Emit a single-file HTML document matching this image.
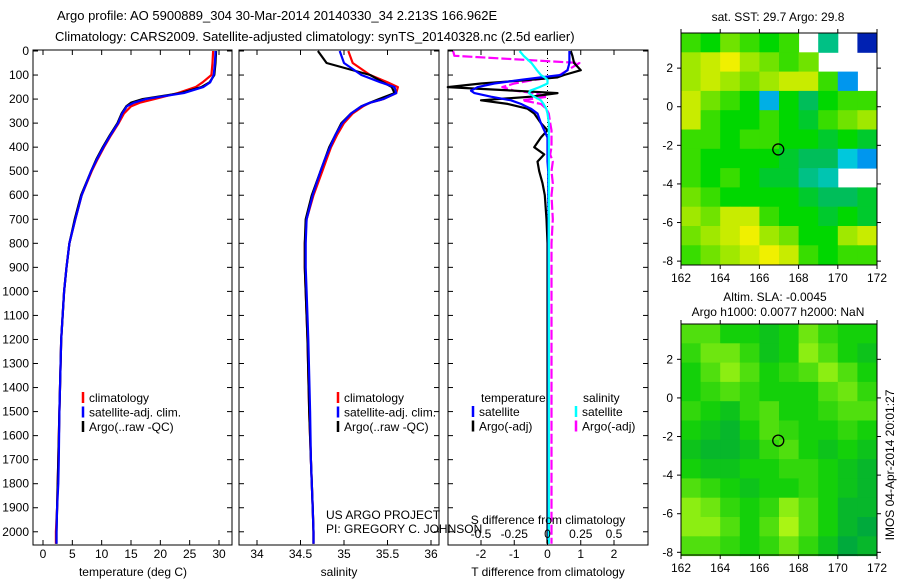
<!DOCTYPE html>
<html><head><meta charset="utf-8">
<style>
html,body{margin:0;padding:0;background:#fff;}
svg{display:block;font-family:"Liberation Sans",sans-serif;}
text{font-size:12px;fill:#000;}
</style></head>
<body>
<svg id="c" width="900" height="580" viewBox="0 0 900 580">
<text x="57" y="20" style="font-size:13px">Argo profile: AO 5900889_304 30-Mar-2014 20140330_34 2.213S 166.962E</text>
<text x="55" y="41" style="font-size:13px">Climatology: CARS2009. Satellite-adjusted climatology: synTS_20140328.nc (2.5d earlier)</text>
</svg>
<script>
// ---------- data ----------
const depthTicks=[0,100,200,300,400,500,600,700,800,900,1000,1100,1200,1300,1400,1500,1600,1700,1800,1900,2000];
const tTicks=[0,5,10,15,20,25,30];
const sTicks=[34,34.5,35,35.5,36];
const sTickLabels=["34","34.5","35","35.5","36"];
const dTTicks=[-2,-1,0,1,2];
const dSTicks=[-0.5,-0.25,0,0.25,0.5];
const dSTickLabels=["-0.5","-0.25","0","0.25","0.5"];
const lonTicks=[162,164,166,168,170,172];
const latTicks=[2,0,-2,-4,-6,-8];

const profDepth=[0,50,100,130,150,175,200,215,230,260,300,350,400,450,500,600,700,800,900,1000,1200,1500,1700,1800,1900,2000,2050];
const tempClim=[29.0,28.9,28.7,27.2,26.0,23.0,19.0,16.5,15.0,13.8,12.9,11.6,10.4,9.3,8.3,6.6,5.5,4.5,4.0,3.6,3.1,2.8,2.6,2.5,2.4,2.2,2.2];
const tempSat=[29.4,29.3,29.1,28.5,27.3,24.0,17.5,15.5,14.3,13.5,12.8,11.5,10.3,9.2,8.2,6.6,5.5,4.5,4.0,3.6,3.1,2.8,2.7,2.6,2.4,2.3,2.3];
const tempArgo=[29.5,29.4,29.2,28.4,27.0,23.5,17.0,15.0,14.2,13.4,12.7,11.4,10.2,9.1,8.2,6.5,5.4,4.5,4.0,3.6,3.1,2.8,2.6,2.5,2.4,2.3,2.3];
const salClim=[35.05,35.1,35.3,35.5,35.62,35.6,35.45,35.3,35.22,35.1,35.0,34.92,34.85,34.8,34.75,34.65,34.57,34.55,34.55,34.56,34.58,34.6,34.62,34.63,34.64,34.65,34.65];
const salSat=[34.95,35.0,35.2,35.42,35.58,35.6,35.45,35.3,35.2,35.08,34.98,34.9,34.84,34.78,34.73,34.64,34.57,34.56,34.56,34.57,34.59,34.61,34.62,34.63,34.64,34.65,34.65];
const salArgo=[34.7,34.8,35.3,35.45,35.55,35.58,35.4,35.3,35.2,35.08,34.97,34.9,34.83,34.78,34.73,34.63,34.56,34.55,34.55,34.56,34.58,34.6,34.62,34.63,34.64,34.65,34.65];

const diffDepth=[0,20,50,80,100,110,120,135,150,165,175,190,205,220,240,260,300,330,360,400,430,460,500,550,600,700,800,1000,1500,2050];
const dTSat=[0.66,0.66,0.66,0.6,0.4,-0.2,-0.8,-1.6,-2.1,-2.3,-2.2,-1.7,-1.1,-0.8,-0.5,-0.3,-0.2,-0.1,0.0,0.0,0.0,0.0,0.02,0.02,0.02,0.03,0.03,0.03,0.03,0.03];
const dTArgo=[0.7,0.75,0.8,1.0,0.5,0.3,-0.5,-2.0,-3.0,-1.0,0.3,-0.5,-2.0,-1.2,-0.6,-0.4,-0.2,0.0,-0.2,-0.4,-0.1,-0.3,-0.25,-0.15,-0.08,-0.03,0.0,0.0,0.0,0.0];
const dSSat=[-0.21,-0.18,-0.12,-0.08,-0.05,-0.02,0.0,0.0,-0.06,-0.13,-0.14,-0.1,-0.05,-0.03,-0.01,0.0,0.01,0.01,0.01,0.01,0.01,0.01,0.01,0.01,0.01,0.01,0.01,0.01,0.01,0.01];
const dSArgo=[-0.71,-0.7,0.24,0.15,0.09,0.05,-0.1,-0.25,-0.34,-0.25,-0.1,0.0,-0.19,-0.05,-0.01,0.01,0.02,0.03,0.03,0.03,0.02,0.04,0.03,0.04,0.03,0.04,0.03,0.03,0.03,0.03];

const sstGrid=[
[29.6,29.5,29.7,29.6,29.5,29.6,null,29.2,null,28.2],
[29.8,29.9,30.0,29.8,29.7,29.6,29.7,null,null,null],
[29.8,29.9,29.8,29.7,29.8,29.9,29.9,29.6,28.8,null],
[29.9,29.7,29.6,29.5,28.9,29.5,29.3,29.5,29.6,29.6],
[29.9,29.6,29.5,29.5,29.6,29.5,29.4,29.6,29.7,29.8],
[29.6,29.6,29.5,29.6,29.6,29.5,29.5,29.4,29.5,29.4],
[29.6,29.5,29.5,29.5,29.5,29.4,29.3,29.3,29.0,28.8],
[29.6,29.5,29.6,29.5,29.4,29.4,29.2,29.1,null,null],
[29.7,29.6,29.5,29.5,29.5,29.5,29.4,29.3,29.3,29.4],
[29.8,29.7,29.9,29.9,29.6,29.5,29.5,29.4,29.5,29.4],
[29.7,29.8,29.9,30.0,29.8,29.7,29.5,29.5,29.8,29.9],
[29.6,29.7,29.8,29.9,30.0,29.9,29.6,29.5,29.6,29.6]];
const slaGrid=[
[0.02,0.02,0.0,0.0,-0.01,0.0,0.03,0.01,0.0,0.0],
[0.01,0.03,0.03,0.01,-0.01,0.0,0.04,0.02,0.0,-0.01],
[0.0,0.02,0.04,0.02,0.0,0.01,0.02,0.04,0.02,0.0],
[0.0,0.01,0.02,0.01,0.0,0.0,0.0,0.02,0.03,0.01],
[0.01,0.0,-0.01,0.01,0.02,0.0,0.0,0.01,0.02,0.02],
[0.0,-0.01,-0.02,0.0,0.02,0.01,0.0,0.0,0.01,0.0],
[-0.01,-0.02,-0.02,-0.01,0.01,0.02,0.0,-0.01,0.0,-0.01],
[0.0,-0.01,-0.01,0.0,0.0,0.01,0.01,0.0,-0.01,-0.02],
[0.02,0.01,0.0,-0.01,0.0,0.0,0.01,0.0,-0.01,-0.02],
[0.04,0.03,0.01,0.0,0.01,0.04,0.02,0.0,-0.02,-0.02],
[0.04,0.04,0.02,0.0,0.02,0.05,0.02,0.0,-0.02,-0.03],
[0.02,0.02,0.01,0.0,0.01,0.03,0.01,-0.01,-0.03,-0.02]];
const floatLon=166.962, floatLat=-2.213;

// ---------- helpers ----------
const svg=document.getElementById('c');
const NS='http://www.w3.org/2000/svg';
function mk(tag,attrs,parent){const e=document.createElementNS(NS,tag);for(const k in attrs)e.setAttribute(k,attrs[k]);(parent||svg).appendChild(e);return e;}
function lin(d0,d1,r0,r1){return v=>r0+(v-d0)*(r1-r0)/(d1-d0);}
const Y0=50,Y1=545;
const yD=lin(0,2055,Y0+1,Y1);

function panel(x0,x1,name){
  const g=mk('g',{});
  
  
  return g;
}
function frame(g,x0,y0,x1,y1){
  const r=mk('rect',{x:x0,y:y0,width:x1-x0,height:y1-y0,fill:'none',stroke:'#000','stroke-width':1},g);
  
  
}
function line(g,xs,ys,fx,fy,color,name,dash){
  const pts=xs.map((v,i)=>fx(v).toFixed(1)+','+fy(ys[i]).toFixed(1)).join(' ');
  const p=mk('polyline',{points:pts,fill:'none',stroke:color,'stroke-width':2.2,'stroke-linejoin':'round'},g);
  if(dash)p.setAttribute('stroke-dasharray',dash);
  
  
}
function depthTicksOn(g,x0,x1,labels){
  depthTicks.forEach(d=>{
    const y=yD(d);
    mk('line',{x1:x0,y1:y,x2:x0+5,y2:y,stroke:'#000'},g);
    mk('line',{x1:x1-5,y1:y,x2:x1,y2:y,stroke:'#000'},g);
    if(labels){const t=mk('text',{x:x0-4,y:y+4,'text-anchor':'end'},g);t.textContent=d;
      
      }
  });
}
function xTicks(g,vals,labs,fx,yb,yt,ly){
  vals.forEach((v,i)=>{
    const x=fx(v);
    mk('line',{x1:x,y1:yb,x2:x,y2:yb-5,stroke:'#000'},g);
    mk('line',{x1:x,y1:yt,x2:x,y2:yt+5,stroke:'#000'},g);
    const t=mk('text',{x:x,y:ly,'text-anchor':'middle'},g);t.textContent=labs[i];
    
    
  });
}
function legend(g,x,y,entries){
  entries.forEach((e,i)=>{
    const yy=y+i*14.5;
    mk('line',{x1:x,y1:yy-10,x2:x,y2:yy+1,stroke:e[1],'stroke-width':2.5},g);
    const t=mk('text',{x:x+6,y:yy},g);t.textContent=e[0];
    
    
  });
}
function label(g,x,y,s,name,anchor){
  const t=mk('text',{x:x,y:y,'text-anchor':anchor||'middle'},g);t.textContent=s;
  
  
}

// ---------- panel 1 temperature ----------
{const x0=33,x1=232;const g=panel(x0,x1,'temperature-panel');
 const fx=lin(0,30,43,219);
 line(g,tempClim,profDepth,fx,yD,'#f00','temp-climatology-line');
 line(g,tempArgo,profDepth,fx,yD,'#000','temp-argo-line');
 line(g,tempSat,profDepth,fx,yD,'#00f','temp-satellite-line');
 frame(g,x0,Y0,x1,Y1);depthTicksOn(g,x0,x1,true);
 xTicks(g,tTicks,tTicks.map(String),fx,Y1,Y0,558);
 label(g,133,576,'temperature (deg C)','x-axis-title-temperature');
 legend(g,83,402,[['climatology','#f00'],['satellite-adj. clim.','#00f'],['Argo(..raw -QC)','#000']]);}

// ---------- panel 2 salinity ----------
{const x0=239,x1=439;const g=panel(x0,x1,'salinity-panel');
 const fx=lin(34,36,257,431);
 line(g,salClim,profDepth,fx,yD,'#f00','sal-climatology-line');
 line(g,salArgo,profDepth,fx,yD,'#000','sal-argo-line');
 line(g,salSat,profDepth,fx,yD,'#00f','sal-satellite-line');
 frame(g,x0,Y0,x1,Y1);depthTicksOn(g,x0,x1,false);
 xTicks(g,sTicks,sTickLabels,fx,Y1,Y0,558);
 label(g,339,576,'salinity','x-axis-title-salinity');
 legend(g,338,402,[['climatology','#f00'],['satellite-adj. clim.','#00f'],['Argo(..raw -QC)','#000']]);
 label(g,326,519,'US ARGO PROJECT','project-label','start');
 label(g,326,533,'PI: GREGORY C. JOHNSON','pi-label','start');}

// ---------- panel 3 differences ----------
{const x0=448,x1=648;const g=panel(x0,x1,'difference-panel');
 const fx=lin(-2,2,481,614);
 const fs=v=>fx(v*4);
 const z=mk('line',{x1:fx(0),y1:Y0,x2:fx(0),y2:Y1,stroke:'#000','stroke-dasharray':'1,3'},g);
 
 
 line(g,dSArgo,diffDepth,fs,yD,'#f0f','sal-diff-argo-line','10,3');
 line(g,dTArgo,diffDepth,fx,yD,'#000','temp-diff-argo-line');
 line(g,dTSat,diffDepth,fx,yD,'#00f','temp-diff-satellite-line');
 line(g,dSSat,diffDepth,fs,yD,'#0ff','sal-diff-satellite-line');
 frame(g,x0,Y0,x1,Y1);depthTicksOn(g,x0,x1,false);
 xTicks(g,dTTicks,dTTicks.map(String),fx,Y1,Y0,558);
 dSTicks.forEach((v,i)=>{const t=mk('text',{x:fs(v),y:538,'text-anchor':'middle'},g);t.textContent=dSTickLabels[i];
   
   });
 label(g,548,524,'S difference from climatology','s-diff-axis-title');
 label(g,548,576,'T difference from climatology','t-diff-axis-title');
 label(g,481,402,'temperature','legend-header-temperature','start');
 label(g,583,402,'salinity','legend-header-salinity','start');
 legend(g,473,416,[['satellite','#00f'],['Argo(-adj)','#000']]);
 legend(g,576,416,[['satellite','#0ff'],['Argo(-adj)','#f0f']]);}

// ---------- maps ----------
function sstColor(v){
  const stops=[[28.0,[0,0,140]],[28.6,[0,100,255]],[29.0,[0,200,220]],[29.3,[0,190,90]],[29.5,[0,215,0]],[29.75,[140,230,0]],[30.0,[240,240,0]],[30.5,[255,160,0]]];
  if(v<=stops[0][0])return 'rgb('+stops[0][1]+')';
  for(let i=1;i<stops.length;i++){if(v<=stops[i][0]){const a=stops[i-1],b=stops[i],t=(v-a[0])/(b[0]-a[0]);
    return 'rgb('+a[1].map((c,k)=>Math.round(c+(b[1][k]-c)*t)).join(',')+')';}}
  return 'rgb('+stops[stops.length-1][1]+')';
}
function slaColor(v){
  const stops=[[-0.03,[0,170,60]],[0.0,[20,208,10]],[0.05,[170,245,20]]];
  if(v<=stops[0][0])return 'rgb('+stops[0][1]+')';
  for(let i=1;i<stops.length;i++){if(v<=stops[i][0]){const a=stops[i-1],b=stops[i],t=(v-a[0])/(b[0]-a[0]);
    return 'rgb('+a[1].map((c,k)=>Math.round(c+(b[1][k]-c)*t)).join(',')+')';}}
  return 'rgb('+stops[stops.length-1][1]+')';
}
function map(top,bottom,grid,colorFn,name,latTop){
  const x0=681,x1=877;
  const g=panel(x0,x1,name);
  const fx=lin(162,172,x0,x1);
  const fy=lin(latTop,latTop-12,top,top+12*19.3);
  grid.forEach((row,r)=>row.forEach((v,c)=>{
    if(v===null)return;
    const cx=fx(162+c),cy=fy(latTop-r);
    const cell=mk('rect',{x:cx,y:cy,width:fx(163+c)-cx+0.5,height:fy(latTop-r-1)-cy+0.5,fill:colorFn(v)},g);
    
    
  }));
  frame(g,x0,top,x1,bottom);
  lonTicks.forEach(v=>{const x=fx(v);mk('line',{x1:x,y1:bottom,x2:x,y2:bottom+4,stroke:'#000'},g);mk('line',{x1:x,y1:top,x2:x,y2:top-4,stroke:'#000'},g);
    label(g,x,bottom+17,String(v),'lon-tick-label');});
  latTicks.forEach(v=>{const y=fy(v);mk('line',{x1:x0,y1:y,x2:x0-4,y2:y,stroke:'#000'},g);mk('line',{x1:x1,y1:y,x2:x1+4,y2:y,stroke:'#000'},g);
    label(g,x0-8,y+4,String(v),'lat-tick-label','end');});
  const c=mk('circle',{cx:fx(floatLon),cy:fy(floatLat),r:5.5,fill:'none',stroke:'#000','stroke-width':1.3},g);
  
  
}
map(33,265,sstGrid,sstColor,'sst-map',3.82);
map(324,555,slaGrid,slaColor,'sla-map',3.83);
{const g=panel(0,0,'map-titles');
 label(g,778,21,'sat. SST: 29.7 Argo: 29.8','sst-map-title');
 label(g,775,301,'Altim. SLA: -0.0045','sla-map-title');
 label(g,778,316,'Argo h1000: 0.0077 h2000: NaN','argo-height-label');
 const t=mk('text',{x:0,y:0,'text-anchor':'middle',transform:'translate(894,465) rotate(-90)'},g);
 t.textContent='IMOS 04-Apr-2014 20:01:27';
 
 }
</script>
</body></html>
